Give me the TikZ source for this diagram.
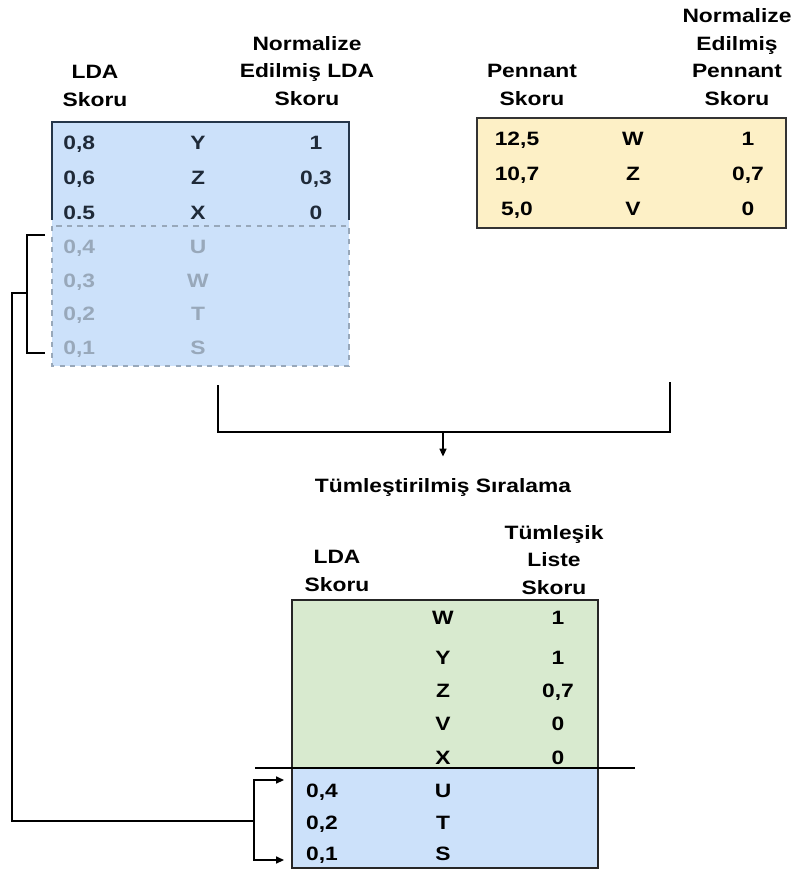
\documentclass[tikz,border=0pt]{standalone}
\usepackage{fontspec}
\setmainfont{Liberation Sans}[FakeStretch=1.18]
\usepackage{xcolor}
\definecolor{ldablue}{HTML}{CCE1FA}
\definecolor{penyellow}{HTML}{FDF0C6}
\definecolor{mergegreen}{HTML}{D8EACF}
\definecolor{textdark}{HTML}{1F2A38}
\definecolor{textfade}{HTML}{98A8BA}
\definecolor{edgedark}{HTML}{25364A}
\usepackage{tikz}
\usetikzlibrary{arrows.meta,positioning,calc}

\begin{document}
\begin{tikzpicture}[x=0.02cm, y=-0.02cm,
    cell/.style={font=\fontsize{11}{13}\selectfont\bfseries, text=textdark, inner sep=0pt},
    head/.style={font=\fontsize{11}{15.6}\selectfont\bfseries, align=center, inner sep=0pt},
    link/.style={black, line width=0.8pt},
    tip/.style={-{Triangle[length=4.5pt,width=4pt]}}]
    \useasboundingbox (0,0) rectangle (793,879);
    % LDA table
    \fill[ldablue] (52,122) rectangle (349,366);
    \draw[edgedark, line width=0.9pt] (52,220) -- (52,122) -- (349,122) -- (349,220);
    \draw[textfade, dashed, line width=0.6pt] (52,226) rectangle (349,366);
    \node[head] (lda-head) at (95,86) {LDA\\Skoru};
    \node[head] (nlda-head) at (307,71) {Normalize\\Edilmiş LDA\\Skoru};
    \foreach \y/\sc/\id/\nz in {142/{0,8}/Y/1, 177/{0,6}/Z/{0,3}, 212/{0.5}/X/0} {
      \node[cell, anchor=base west] (lda-sc-\id) at (63,\y+7) {\sc};
      \node[cell, anchor=base] (lda-\id) at (198,\y+7) {\id};
      \node[cell, anchor=base] (lda-nz-\id) at (316,\y+7) {\nz};
    }
    \foreach \y/\sc/\id in {246/{0,4}/U, 280/{0,3}/W, 313/{0,2}/T, 347/{0,1}/S} {
      \node[cell, text=textfade, anchor=base west] (lda-sc-\id) at (63,\y+7) {\sc};
      \node[cell, text=textfade, anchor=base] (lda-\id) at (198,\y+7) {\id};
    }
    % Pennant table
    \fill[penyellow] (477,118) rectangle (786,228);
    \draw[black!80, line width=0.9pt] (477,118) rectangle (786,228);
    \node[head] (pen-head) at (532,85) {Pennant\\Skoru};
    \node[head] (npen-head) at (737,57) {Normalize\\Edilmiş\\Pennant\\Skoru};
    \foreach \y/\sc/\id/\nz in {138/{12,5}/W/1, 173/{10,7}/Z/{0,7}, 208/{5,0}/V/0} {
      \node[cell, text=black, anchor=base] (pen-sc-\id) at (517,\y+7) {\sc};
      \node[cell, text=black, anchor=base] (pen-\id) at (633,\y+7) {\id};
      \node[cell, text=black, anchor=base] (pen-nz-\id) at (748,\y+7) {\nz};
    }
    % Merge
    \node[head] (merge-title) at (443,487) {Tümleştirilmiş Sıralama};
    \coordinate (ldaout) at (218,385);
    \coordinate (penout) at (670,382);
    \coordinate (join) at (443,432);
    \draw[link] (ldaout) |- (join) -| (penout);
    \draw[link, tip, shorten >=12pt] (join) -- (merge-title.north);
    % Combined table
    \fill[mergegreen] (292,600) rectangle (598,768);
    \fill[ldablue] (292,768) rectangle (598,868);
    \draw[black!85, line width=0.9pt] (292,600) rectangle (598,868);
    \draw[link] (255,768) -- (635,768);
    \node[head] (cmb-head) at (337,571) {LDA\\Skoru};
    \node[head] (tml-head) at (554,560) {Tümleşik\\Liste\\Skoru};
    \foreach \y/\id/\nz in {617/W/1, 657/Y/1, 690/Z/{0,7}, 723/V/0, 757/X/0} {
      \node[cell, text=black, anchor=base] (cmb-\id) at (443,\y+7) {\id};
      \node[cell, text=black, anchor=base] (cmb-nz-\id) at (558,\y+7) {\nz};
    }
    \foreach \y/\sc/\id in {790/{0,4}/U, 822/{0,2}/T, 853/{0,1}/S} {
      \node[cell, text=black, anchor=base] (cmb-sc-\id) at (322,\y+7) {\sc};
      \node[cell, text=black, anchor=base] (cmb-\id) at (443,\y+7) {\id};
    }
    % Moved rows
    \coordinate (fade-top) at (45,235);
    \coordinate (fade-bot) at (45,353);
    \coordinate (brk) at (27,293);
    \coordinate (tail) at (254,821);
    \coordinate (in-top) at (284,780);
    \coordinate (in-bot) at (284,860);
    \draw[link] (fade-top) -| (brk) |- (fade-bot);
    \draw[link] (brk) -- (12,293) |- (tail);
    \draw[link, tip] (tail) |- (in-top);
    \draw[link, tip] (tail) |- (in-bot);
  \end{tikzpicture}
\end{document}
